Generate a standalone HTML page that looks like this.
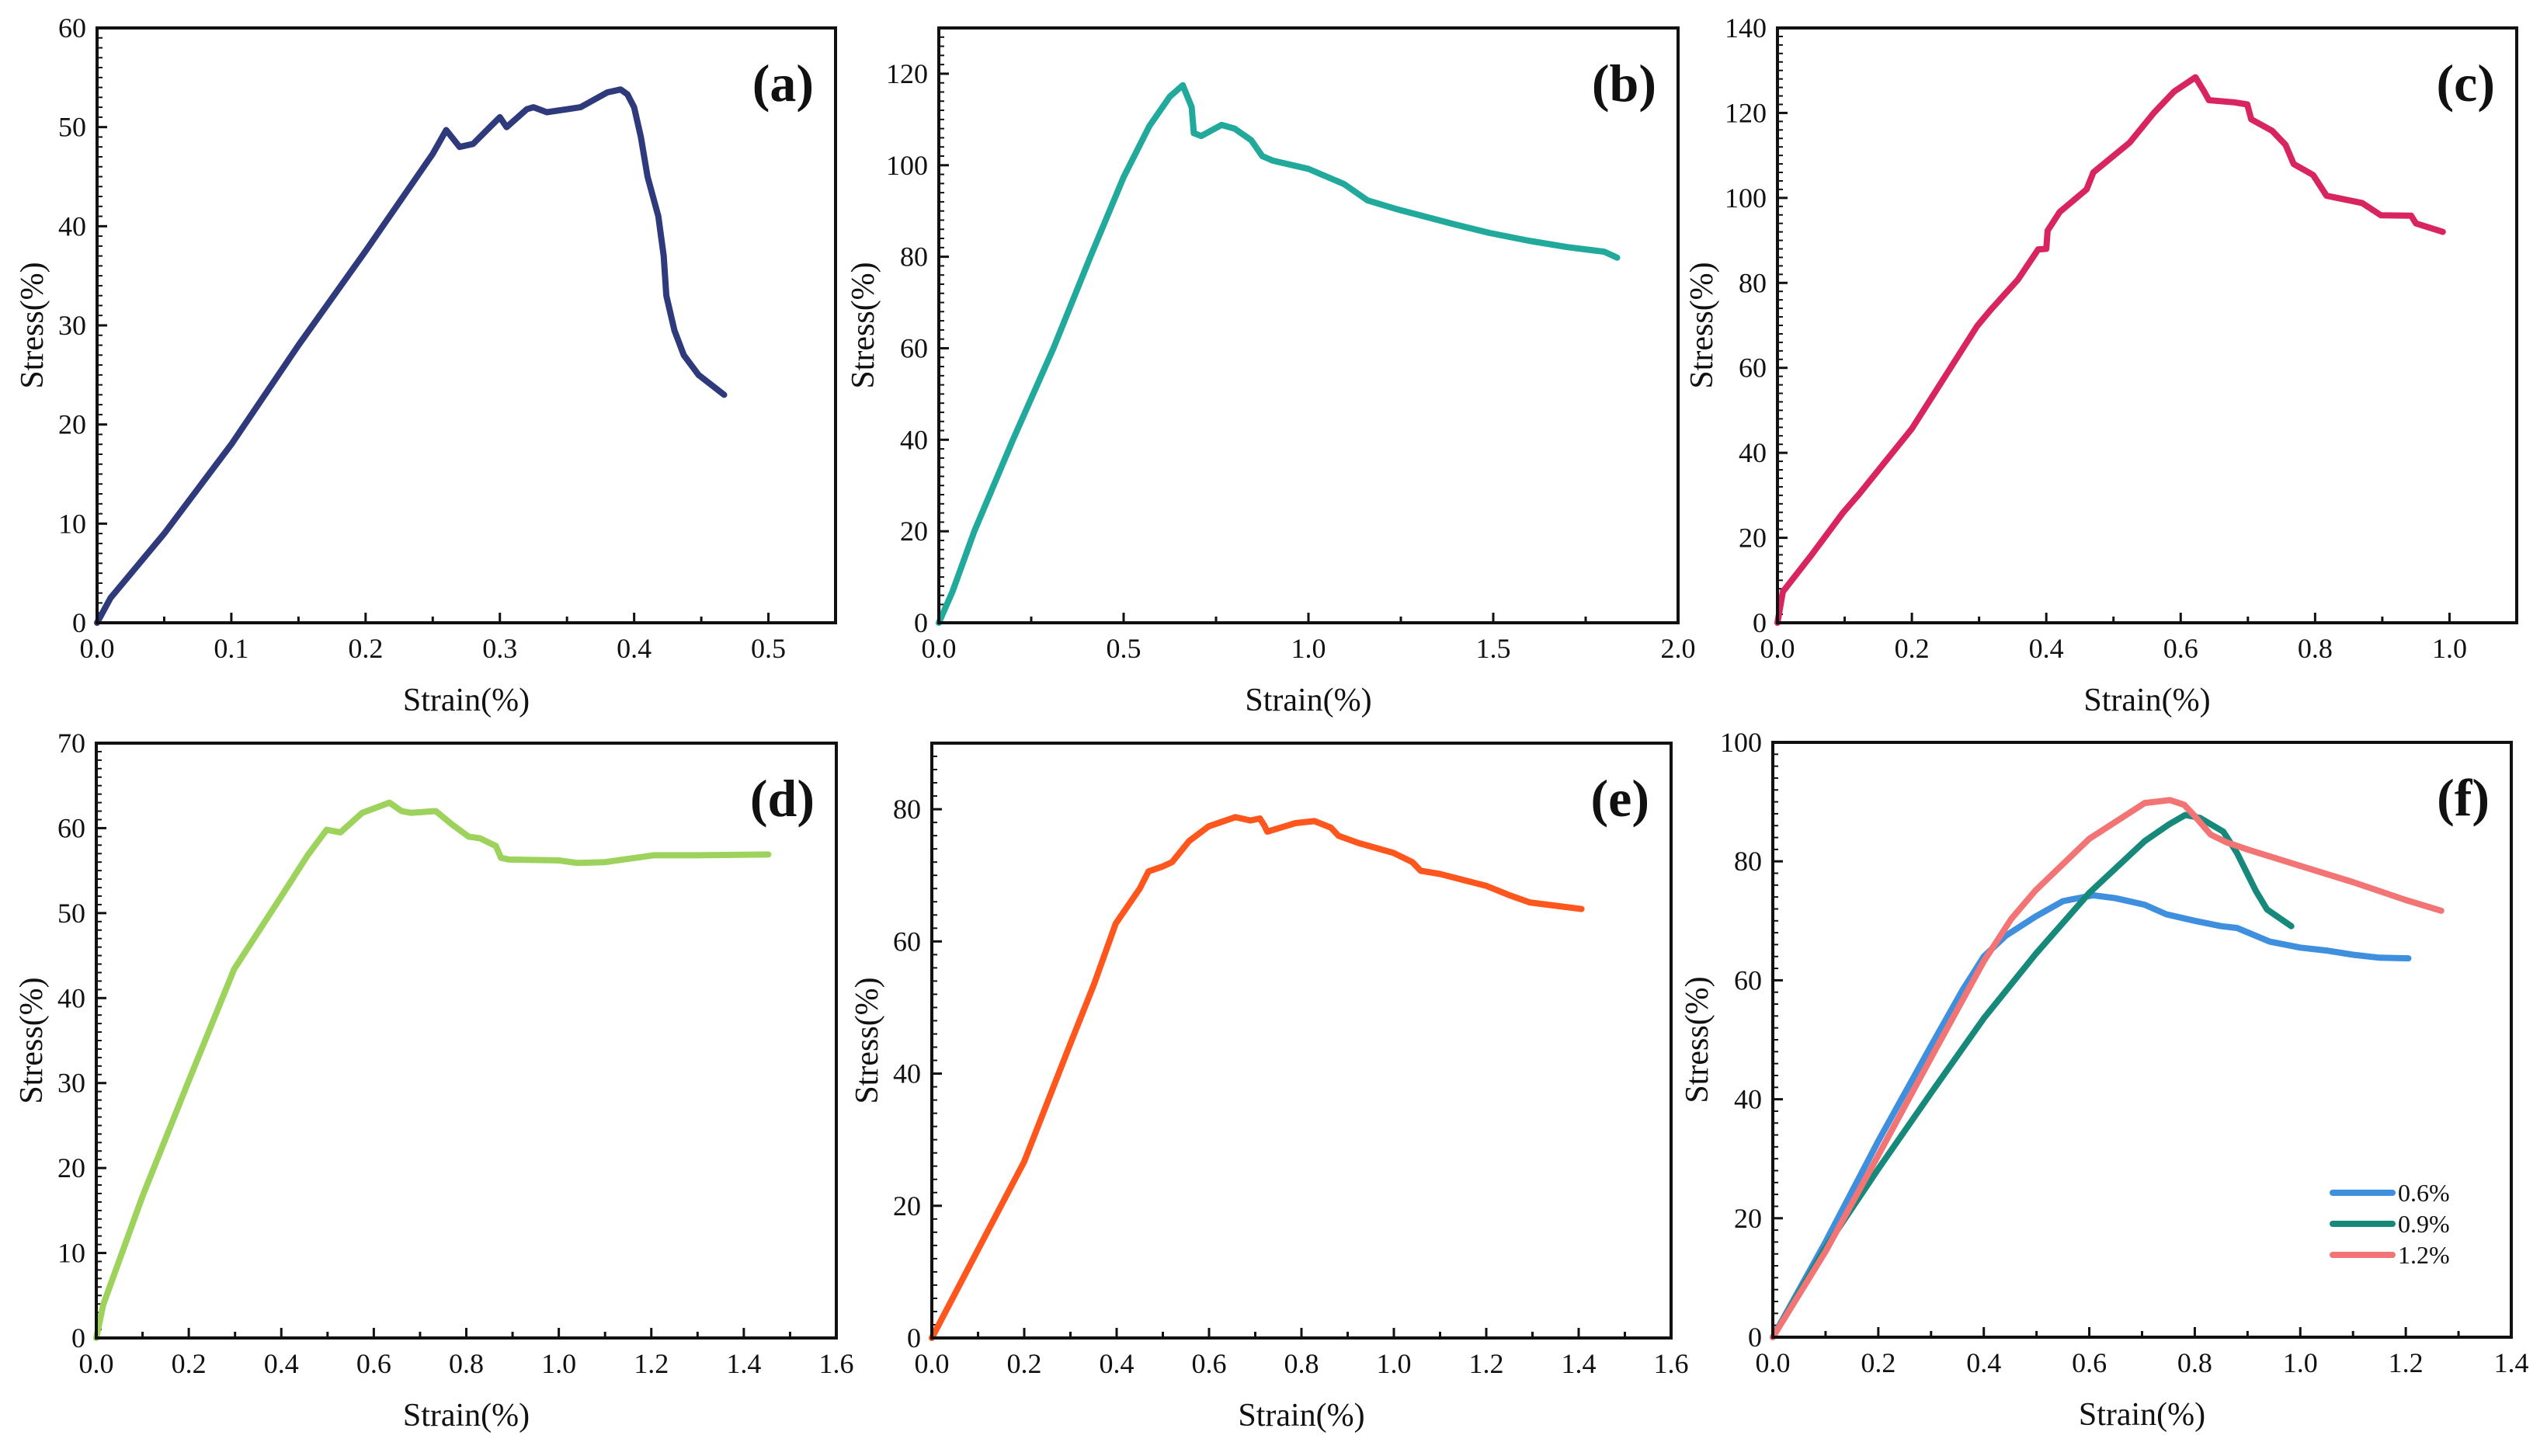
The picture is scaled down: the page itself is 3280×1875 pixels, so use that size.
<!DOCTYPE html>
<html><head><meta charset="utf-8"><style>
html,body{margin:0;padding:0;background:#fff;}
svg{display:block;}
text{font-family:"Liberation Serif",serif;fill:#111;}
</style></head><body>
<svg id="fig" width="3280" height="1875" viewBox="0 0 3280 1875" xmlns="http://www.w3.org/2000/svg"></svg>
<script>
// Panel (a)
const aStrain = [0,0.01,0.05,0.1,0.15,0.2,0.25,0.26,0.27,0.28,0.3,0.305,0.32,0.325,0.335,0.35,0.36,0.38,0.39,0.395,0.4,0.405,0.41,0.418,0.422,0.424,0.43,0.437,0.448,0.467];
const aStress = [0,2.5,9,18,28,37.5,47.3,49.7,48,48.3,51,50,51.8,52,51.5,51.8,52,53.5,53.8,53.3,52,49,45,41,37,33,29.5,27,25,23];
// Panel (b)
const bStrain = [0,0.037,0.096,0.2,0.31,0.41,0.5,0.57,0.625,0.66,0.684,0.69,0.71,0.765,0.8,0.845,0.875,0.904,1.0,1.096,1.16,1.243,1.39,1.49,1.596,1.7,1.8,1.835];
const bStress = [0,6.8,20,39.9,60,80,97.4,108.6,115,117.5,112.7,107,106.4,108.8,108,105.5,102,101,99.2,95.9,92.3,90.3,87.2,85.2,83.5,82.1,81.1,79.8];
// Panel (c)
const cStrain = [0,0.008,0.049,0.098,0.122,0.2,0.297,0.317,0.358,0.388,0.4,0.402,0.42,0.46,0.47,0.524,0.56,0.59,0.622,0.635,0.642,0.68,0.699,0.705,0.736,0.756,0.768,0.797,0.817,0.87,0.898,0.943,0.95,0.99];
const cStress = [0,7.3,15.6,26,30.4,45.7,69.8,73.6,80.8,87.9,88,92.3,96.7,102,106,113,120,125,128.4,125,123,122.5,122,118.5,115.8,112.5,108,105.4,100.5,98.8,95.9,95.8,94,92];
// Panel (d)
const dStrain = [0,0.015,0.1,0.198,0.298,0.404,0.457,0.498,0.528,0.575,0.634,0.66,0.68,0.734,0.77,0.805,0.83,0.864,0.875,0.893,1.0,1.04,1.1,1.205,1.3,1.453];
const dStress = [0,3.9,16.7,30,43.4,52.3,56.8,59.8,59.5,61.8,63,62,61.8,62,60.4,59,58.8,57.9,56.5,56.3,56.2,55.9,56,56.8,56.8,56.9];
// Panel (e)
const eStrain = [0,0.101,0.2,0.298,0.351,0.398,0.45,0.469,0.498,0.52,0.557,0.599,0.657,0.69,0.71,0.72,0.726,0.787,0.828,0.864,0.88,0.923,0.999,1.04,1.058,1.1,1.2,1.25,1.294,1.35,1.406];
const eStress = [0,13.5,26.7,44.2,53.5,62.7,68,70.6,71.3,72,75.2,77.4,78.8,78.3,78.6,77.5,76.6,77.9,78.2,77.2,76,74.9,73.4,72,70.7,70.2,68.4,67,65.9,65.4,64.9];
// Panel (f)
const f06Strain = [0,0.1,0.2,0.302,0.36,0.4,0.442,0.498,0.55,0.607,0.65,0.705,0.746,0.8,0.85,0.88,0.942,1.0,1.05,1.1,1.15,1.205];
const f06Stress = [0,16,33,49.3,58.4,64,67.5,70.7,73.3,74.3,73.8,72.7,71.1,70,69.1,68.8,66.5,65.5,65,64.3,63.8,63.7];
const f09Strain = [0,0.098,0.2,0.302,0.4,0.498,0.6,0.705,0.751,0.782,0.81,0.854,0.88,0.916,0.937,0.983];
const f09Stress = [0,14.8,28.3,41.3,53.6,64.4,74.7,83.4,86.2,87.8,87.3,85,81.4,75,71.9,69.1];
const f12Strain = [0,0.1,0.2,0.302,0.4,0.452,0.498,0.6,0.705,0.753,0.78,0.798,0.83,0.86,0.9,0.994,1.1,1.15,1.2,1.267];
const f12Stress = [0,14.4,30.6,47.3,63.2,70.3,75.1,83.8,89.8,90.3,89.5,87.8,84.5,83.2,82,79.4,76.5,75,73.5,71.7];
// Axis tick labels
const aXTicks = ["0.0","0.1","0.2","0.3","0.4","0.5"];
const aYTicks = ["0","10","20","30","40","50","60"];
const bXTicks = ["0.0","0.5","1.0","1.5","2.0"];
const bYTicks = ["0","20","40","60","80","100","120"];
const cXTicks = ["0.0","0.2","0.4","0.6","0.8","1.0"];
const cYTicks = ["0","20","40","60","80","100","120","140"];
const dXTicks = ["0.0","0.2","0.4","0.6","0.8","1.0","1.2","1.4","1.6"];
const dYTicks = ["0","10","20","30","40","50","60","70"];
const eXTicks = dXTicks;
const eYTicks = ["0","20","40","60","80"];
const fXTicks = ["0.0","0.2","0.4","0.6","0.8","1.0","1.2","1.4"];
const fYTicks = ["0","20","40","60","80","100"];
const fLegend = ["0.6%","0.9%","1.2%"];

const NS = "http://www.w3.org/2000/svg";
const svg = document.getElementById('fig');
function mk(tag, attrs, parent){
  const e = document.createElementNS(NS, tag);
  for (const k in attrs) e.setAttribute(k, attrs[k]);
  (parent||svg).appendChild(e);
  return e;
}

function panel(id, box, xMax, yMax, xTicks, yTicks, xMinorSub, yMinorSub, series, label){
  const g = mk('g', {});
  
  
  const L = box[0], R = box[1], T = box[2], B = box[3];
  const sx = v => L + v / xMax * (R - L);
  const sy = v => B - v / yMax * (B - T);
  // ticks
  const xStep = parseFloat(xTicks[1]) - parseFloat(xTicks[0]);
  const yStep = parseFloat(yTicks[1]) - parseFloat(yTicks[0]);
  const nxMinor = Math.round(xMax / xStep * xMinorSub);
  for (let i = 1; i < nxMinor + 1; i++){
    const v = i * xStep / xMinorSub;
    if (v > xMax + 1e-9) break;
    const major = i % xMinorSub === 0;
    const t = mk('line', {x1:sx(v), x2:sx(v), y1:B, y2:B-(major?13:8), stroke:'#111','stroke-width':3}, g);
    
    
  }
  const nyMinor = Math.round(yMax / yStep * yMinorSub);
  for (let i = 1; i < nyMinor + 1; i++){
    const v = i * yStep / yMinorSub;
    if (v > yMax + 1e-9) break;
    const major = i % yMinorSub === 0;
    const t = mk('line', {x1:L, x2:L+(major?13:7), y1:sy(v), y2:sy(v), stroke:'#111','stroke-width':major?3:2}, g);
    
    
  }
  xTicks.forEach(s => {
    const t = mk('text', {x:sx(parseFloat(s)), y:B+45, 'text-anchor':'middle', 'font-size':36}, g);
    t.textContent = s;
    
    
  });
  yTicks.forEach(s => {
    const t = mk('text', {x:L-14, y:sy(parseFloat(s))+12, 'text-anchor':'end', 'font-size':36}, g);
    t.textContent = s;
    
    
  });
  // curves
  series.forEach(s => {
    const d = s.x.map((v,i) => (i?'L':'M') + sx(v).toFixed(1) + ' ' + sy(s.y[i]).toFixed(1)).join(' ');
    const p = mk('path', {d:d, fill:'none', stroke:s.color, 'stroke-width':8, 'stroke-linejoin':'round', 'stroke-linecap':'round'}, g);
    
    
  });
  // frame
  const f = mk('rect', {x:L, y:T, width:R-L, height:B-T, fill:'none', stroke:'#111', 'stroke-width':4}, g);
  
  
  // titles
  const xt = mk('text', {x:(L+R)/2, y:B+113, 'text-anchor':'middle', 'font-size':42}, g);
  xt.textContent = 'Strain(%)';
  
  
  const wide = yTicks[yTicks.length-1].length >= 3;
  const yx = L - (wide ? 84 : 70);
  const yc = (T+B)/2;
  const yt = mk('text', {x:yx, y:yc, 'text-anchor':'middle', 'font-size':42, transform:'rotate(-90 '+yx+' '+yc+')'}, g);
  yt.textContent = 'Stress(%)';
  
  
  const pl = mk('text', {x:R-28, y:T+94, 'text-anchor':'end', 'font-size':68, 'font-weight':'bold'}, g);
  pl.textContent = label;
  
  
  return {g, sx, sy, L, R, T, B};
}

panel('a', [125,1076,36,802], 0.55, 60, aXTicks, aYTicks, 2, 10,
  [{x:aStrain, y:aStress, color:'#2e3a7c', name:'curve-a'}], '(a)');
panel('b', [1209,2161,36,802], 2.0, 130, bXTicks, bYTicks, 2, 10,
  [{x:bStrain, y:bStress, color:'#21a99b', name:'curve-b'}], '(b)');
panel('c', [2289,3241,36,802], 1.1, 140, cXTicks, cYTicks, 2, 10,
  [{x:cStrain, y:cStress, color:'#d9255f', name:'curve-c'}], '(c)');
panel('d', [124,1077,957,1723], 1.6, 70, dXTicks, dYTicks, 2, 10,
  [{x:dStrain, y:dStress, color:'#9dd35c', name:'curve-d'}], '(d)');
panel('e', [1200,2152,957,1723], 1.6, 90, eXTicks, eYTicks, 2, 10,
  [{x:eStrain, y:eStress, color:'#ff561e', name:'curve-e'}], '(e)');
const pf = panel('f', [2283,3234,956,1722], 1.4, 100, fXTicks, fYTicks, 2, 10,
  [{x:f06Strain, y:f06Stress, color:'#3f8fdf', name:'curve-0-6-percent'},
   {x:f09Strain, y:f09Stress, color:'#16897a', name:'curve-0-9-percent'},
   {x:f12Strain, y:f12Stress, color:'#f27474', name:'curve-1-2-percent'}], '(f)');

// legend for (f)
const legColors = ['#3f8fdf','#16897a','#f27474'];
const leg = mk('g', {});


fLegend.forEach((s,i) => {
  const y = 1536 + i*40;
  const ln = mk('line', {x1:3004, x2:3081, y1:y, y2:y, stroke:legColors[i], 'stroke-width':8, 'stroke-linecap':'round'}, leg);
  
  
  const t = mk('text', {x:3088, y:y+11, 'font-size':32}, leg);
  t.textContent = s;
  
  
});
</script>
</body></html>
